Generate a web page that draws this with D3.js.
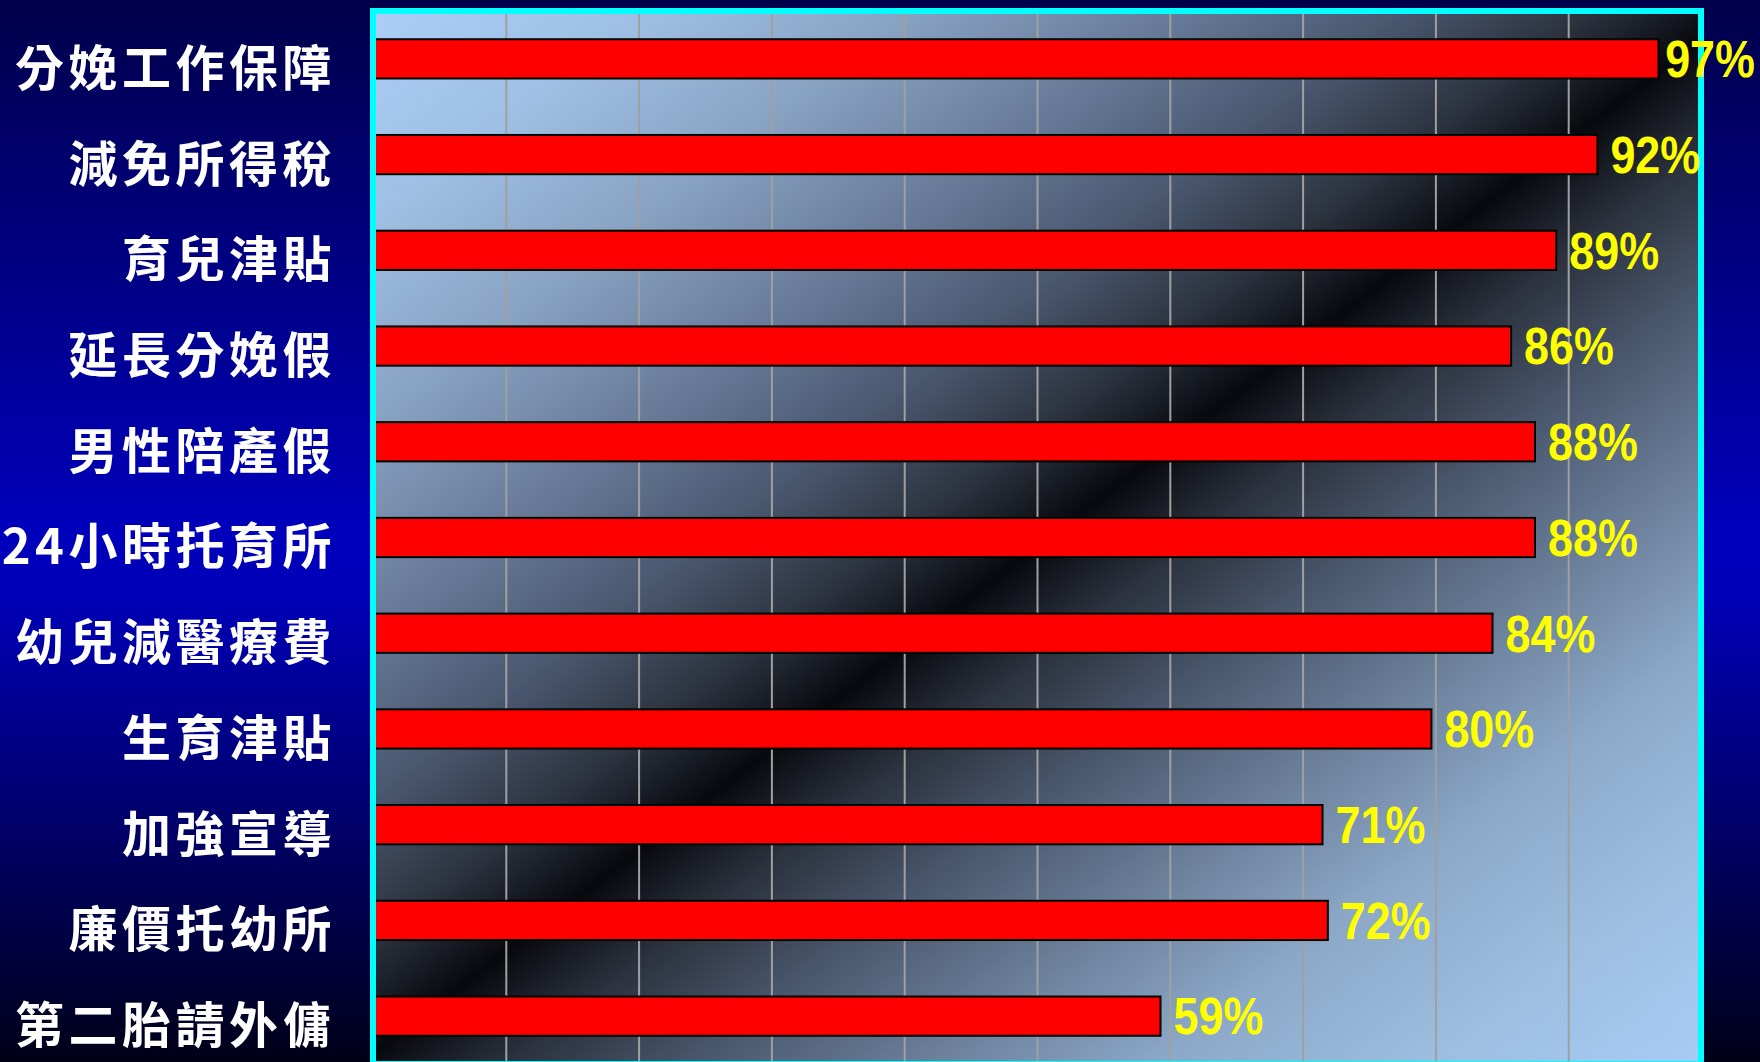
<!DOCTYPE html>
<html>
<head>
<meta charset="utf-8">
<script src="https://cdn.jsdelivr.net/npm/d3@7"></script>
<style>
  html, body { margin: 0; padding: 0; background: #000040; }
  svg { display: block; }
</style>
</head>
<body>
<svg id="chart" width="1760" height="1062"></svg>
<script>
const categories = ["分娩工作保障","減免所得稅","育兒津貼","延長分娩假","男性陪產假","24小時托育所","幼兒減醫療費","生育津貼","加強宣導","廉價托幼所","第二胎請外傭"];
const values = [96.8, 92.2, 89.1, 85.7, 87.5, 87.5, 84.3, 79.7, 71.5, 71.9, 59.3];
const valueLabels = ["97%","92%","89%","86%","88%","88%","84%","80%","71%","72%","59%"];
const gridTicks = [10, 20, 30, 40, 50, 60, 70, 80, 90];

const W = 1760, H = 1062;
const plot = { left: 373, right: 1701, top: 11, bottom: 1064 };

const svg = d3.select("#chart");
const defs = svg.append("defs");

// page background gradient
const bg = defs.append("linearGradient").attr("id", "bgGrad")
  .attr("x1", 0).attr("y1", 0).attr("x2", 0).attr("y2", 1);
[[0, "#00004a"], [0.5, "#0000bc"], [0.56, "#0000b8"], [1, "#000018"]]
  .forEach(([o, c]) => bg.append("stop").attr("offset", o).attr("stop-color", c));

// plot diagonal gradient
const ux = 0.607, uy = 0.795, L = 1640;
const pg = defs.append("linearGradient").attr("id", "plotGrad")
  .attr("gradientUnits", "userSpaceOnUse")
  .attr("x1", plot.left).attr("y1", plot.top)
  .attr("x2", plot.left + ux * L).attr("y2", plot.top + uy * L);
[[0, "#abcdf8"], [0.1, "#9fc0e4"], [0.2, "#88a2c2"], [0.29, "#6a7e9c"],
 [0.38, "#4a5870"], [0.45, "#2c333f"], [0.505, "#08090e"], [0.56, "#2c323e"],
 [0.63, "#4a586e"], [0.71, "#6a7e98"], [0.8, "#8ca8c8"], [0.9, "#9dbee0"], [1, "#a9caf6"]]
  .forEach(([o, c]) => pg.append("stop").attr("offset", o).attr("stop-color", c));

svg.append("rect").attr("x", 0).attr("y", 0).attr("width", W).attr("height", H)
  .attr("fill", "url(#bgGrad)");

const x = d3.scaleLinear().domain([0, 100]).range([plot.left, plot.right]);
const y = d3.scaleBand().domain(categories).range([plot.top, plot.bottom])
  .paddingInner(0.59).paddingOuter(0.295);

// plot background
svg.append("rect")
  .attr("x", x(0)).attr("y", plot.top)
  .attr("width", x(100) - x(0)).attr("height", plot.bottom - plot.top)
  .attr("fill", "url(#plotGrad)");

// gridlines
const grid = svg.append("g")
  .attr("transform", `translate(0,${plot.bottom})`)
  .call(d3.axisBottom(x).tickValues(gridTicks).tickSize(-(plot.bottom - plot.top)).tickFormat(""));
grid.select(".domain").remove();
grid.selectAll(".tick line").attr("stroke", "#a0a0a0").attr("stroke-width", 2);

// bars
svg.append("g").selectAll("rect").data(values).join("rect")
  .attr("x", x(0))
  .attr("y", (d, i) => y(categories[i]))
  .attr("width", d => x(d) - x(0))
  .attr("height", y.bandwidth())
  .attr("fill", "#ff0000")
  .attr("stroke", "#000")
  .attr("stroke-width", 2);

// frame
svg.append("rect")
  .attr("x", x(0)).attr("y", plot.top)
  .attr("width", x(100) - x(0)).attr("height", plot.bottom - plot.top)
  .attr("fill", "none").attr("stroke", "#00ffff").attr("stroke-width", 6);

// category labels
const yAxis = svg.append("g")
  .attr("transform", `translate(336,0)`)
  .call(d3.axisLeft(y).tickSize(0).tickPadding(0));
yAxis.select(".domain").remove();
yAxis.selectAll(".tick text")
  .attr("fill", "#ffffff")
  .attr("font-family", "'Noto Sans CJK TC', 'Noto Sans CJK SC', sans-serif")
  .attr("font-weight", 700)
  .attr("font-size", 49)
  .attr("letter-spacing", "4.5px")
  .attr("text-anchor", "end")
  .attr("dy", "0.55em");

// value labels
const sx = 0.88;
const vl = svg.append("g").selectAll("text").data(values).join("text")
  .attr("dy", "0.36em")
  .attr("fill", "#ffff00")
  .attr("font-family", "'Liberation Sans', Arial, sans-serif")
  .attr("font-weight", 700)
  .attr("font-size", 51)
  .text((d, i) => valueLabels[i]);
vl.attr("transform", function (d, i) {
  const w = this.getComputedTextLength() * sx;
  const tx = Math.min(x(d) + 13, W - w - 5);
  return `translate(${tx},${y(categories[i]) + y.bandwidth() / 2}) scale(${sx},1)`;
});
</script>
</body>
</html>
